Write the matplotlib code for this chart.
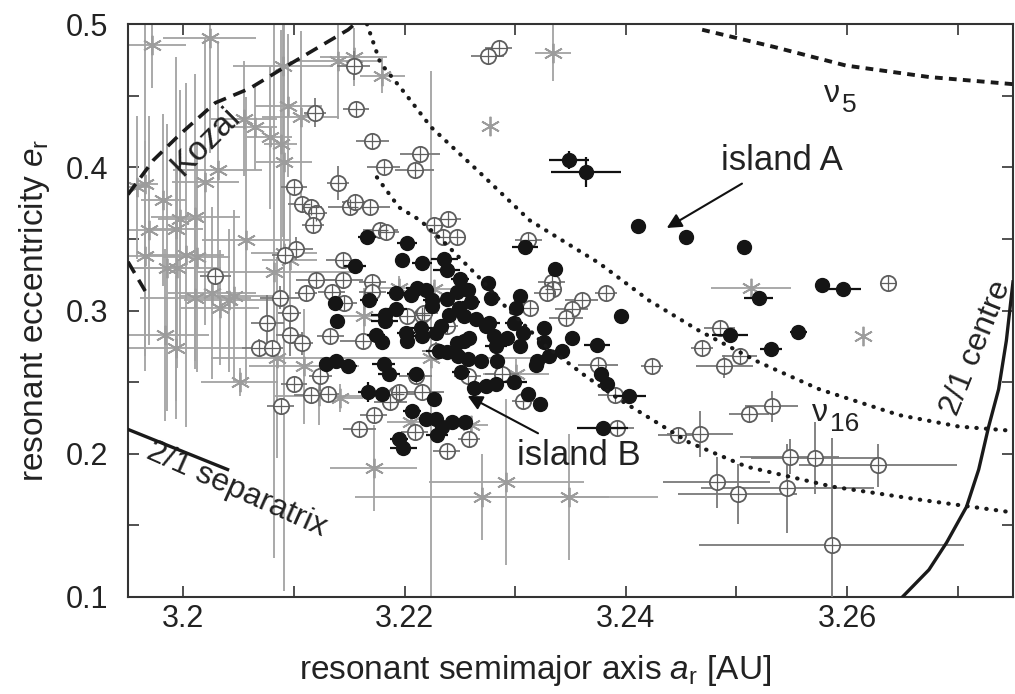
import numpy as np
import matplotlib.pyplot as plt

plt.rcParams['font.family'] = ['Liberation Sans', 'DejaVu Sans']
plt.rcParams['mathtext.fontset'] = 'custom'
plt.rcParams['mathtext.rm'] = 'Liberation Sans'
plt.rcParams['mathtext.it'] = 'Liberation Sans:italic'

# resonant elements: filled circles (islands)
filled_a = [3.2349, 3.2364, 3.2411, 3.2454, 3.2507, 3.2577, 3.2596, 3.2520, 3.2556, 3.2494, 3.2531, 3.2396, 3.2374, 3.2403, 3.2379, 3.2383, 3.2378,
            3.2166, 3.2202, 3.2309, 3.2155, 3.2198, 3.2216, 3.2236, 3.2238, 3.2250, 3.2275, 3.2336, 3.2278, 3.2304, 3.2301,
            3.2257, 3.2260, 3.2249, 3.2240, 3.2265, 3.2276, 3.2281, 3.2293, 3.2299, 3.2307,
            3.2304, 3.2283, 3.2284, 3.2269, 3.2257, 3.2248, 3.2238, 3.2231, 3.2258, 3.2247,
            3.2326, 3.2326, 3.2320, 3.2319, 3.2331, 3.2342, 3.2351, 3.2299, 3.2283, 3.2274,
            3.2263, 3.2251, 3.2210, 3.2227, 3.2312, 3.2322, 3.2211, 3.2219, 3.2206, 3.2192,
            3.2168, 3.2137, 3.2225, 3.2238, 3.2247, 3.2225, 3.2192, 3.2182, 3.2182, 3.2139,
            3.2254, 3.2274, 3.2201, 3.2215, 3.2216, 3.2228, 3.2233, 3.2174, 3.2180, 3.2254,
            3.2129, 3.2138, 3.2149, 3.2181, 3.2186, 3.2202, 3.2167, 3.2180, 3.2207, 3.2219,
            3.2228, 3.2234, 3.2243, 3.2255, 3.2229, 3.2195, 3.2199]
filled_e = [0.405, 0.397, 0.359, 0.351, 0.344, 0.318, 0.315, 0.309, 0.285, 0.283, 0.273, 0.296, 0.276, 0.240, 0.218, 0.249, 0.256,
            0.351, 0.347, 0.344, 0.331, 0.335, 0.333, 0.336, 0.328, 0.322, 0.319, 0.329, 0.309, 0.310, 0.302,
            0.314, 0.306, 0.302, 0.297, 0.294, 0.291, 0.282, 0.281, 0.291, 0.284,
            0.275, 0.275, 0.265, 0.265, 0.266, 0.268, 0.271, 0.272, 0.281, 0.277,
            0.288, 0.278, 0.265, 0.262, 0.268, 0.272, 0.281, 0.250, 0.249, 0.247,
            0.246, 0.257, 0.256, 0.238, 0.242, 0.235, 0.316, 0.314, 0.311, 0.312,
            0.307, 0.305, 0.307, 0.308, 0.313, 0.303, 0.301, 0.297, 0.293, 0.293,
            0.296, 0.289, 0.284, 0.288, 0.282, 0.284, 0.289, 0.283, 0.278, 0.279,
            0.263, 0.265, 0.261, 0.263, 0.256, 0.279, 0.243, 0.242, 0.230, 0.224,
            0.224, 0.219, 0.222, 0.222, 0.213, 0.210, 0.204]
filled_da = [0.0018, 0.0032, 0, 0, 0, 0, 0.0017, 0.0013, 0.0008, 0.0016, 0.0010, 0, 0.0012, 0.0015, 0.0023, 0, 0,
             0.0008, 0.0009, 0.0012, 0.0010, 0.0006, 0.0009, 0.0012, 0.0012, 0.0008, 0, 0, 0, 0, 0,
             0, 0.0008, 0, 0.0006, 0, 0.0010, 0, 0, 0.0008, 0,
             0, 0.0010, 0, 0, 0.0010, 0, 0.0008, 0.0012, 0, 0,
             0, 0, 0, 0, 0, 0, 0, 0.0012, 0, 0.0010,
             0, 0.0008, 0.0008, 0, 0, 0, 0.0010, 0, 0.0008, 0.0008,
             0.0008, 0.0006, 0.0008, 0, 0, 0.0006, 0.0010, 0.0012, 0.0012, 0,
             0.0008, 0, 0.0008, 0.0010, 0.0012, 0.0008, 0, 0.0008, 0.0006, 0,
             0, 0, 0.0008, 0.0010, 0.0010, 0.0006, 0.0009, 0, 0.0008, 0,
             0, 0, 0, 0, 0.0010, 0.0008, 0.0012]
filled_de = [0.006, 0.0105, 0, 0, 0, 0, 0, 0, 0, 0, 0, 0, 0, 0, 0, 0, 0,
             0, 0, 0, 0, 0, 0, 0, 0, 0, 0, 0, 0, 0, 0,
             0, 0, 0, 0, 0, 0, 0, 0, 0, 0,
             0, 0, 0, 0, 0, 0, 0, 0, 0, 0,
             0, 0, 0, 0, 0, 0, 0, 0, 0, 0,
             0, 0, 0, 0, 0, 0, 0, 0, 0, 0,
             0, 0, 0, 0, 0, 0, 0, 0, 0, 0,
             0, 0, 0, 0, 0, 0, 0, 0, 0, 0,
             0, 0, 0, 0, 0, 0, 0.007, 0, 0, 0,
             0, 0, 0, 0, 0, 0, 0]

# open circles
open_a = [3.2154, 3.2156, 3.2119, 3.2171, 3.2181, 3.2214, 3.2209, 3.2140, 3.2100, 3.2107,
          3.2115, 3.2120, 3.2151, 3.2155, 3.2169, 3.2117, 3.2178, 3.2183, 3.2102, 3.2092,
          3.2029, 3.2144, 3.2120, 3.2144, 3.2171, 3.2171, 3.2134, 3.2111, 3.2087, 3.2145,
          3.2096, 3.2076, 3.2096, 3.2107, 3.2133, 3.2068, 3.2080, 3.2162, 3.2124, 3.2100,
          3.2115, 3.2131, 3.2192, 3.2216, 3.2202, 3.2216, 3.2088, 3.2159, 3.2172, 3.2209,
          3.2187, 3.2285, 3.2275, 3.2239, 3.2227, 3.2235, 3.2247, 3.2312, 3.2333, 3.2334,
          3.2329, 3.2360, 3.2351, 3.2346, 3.2382, 3.2313, 3.2218, 3.2238, 3.2228, 3.2375,
          3.2424, 3.2288, 3.2257, 3.2210, 3.2195, 3.2390, 3.2258, 3.2238, 3.2307, 3.2392,
          3.2447, 3.2485, 3.2469, 3.2503, 3.2489, 3.2637, 3.2532, 3.2511, 3.2467, 3.2548,
          3.2571, 3.2628, 3.2482, 3.2501, 3.2546, 3.2586]
open_e = [0.471, 0.441, 0.438, 0.418, 0.400, 0.409, 0.398, 0.389, 0.386, 0.374,
          0.372, 0.368, 0.372, 0.376, 0.372, 0.360, 0.356, 0.355, 0.343, 0.339,
          0.324, 0.335, 0.321, 0.321, 0.320, 0.313, 0.313, 0.312, 0.309, 0.305,
          0.298, 0.291, 0.283, 0.277, 0.282, 0.274, 0.274, 0.279, 0.254, 0.249,
          0.241, 0.242, 0.242, 0.243, 0.296, 0.297, 0.233, 0.217, 0.227, 0.215,
          0.236, 0.483, 0.478, 0.364, 0.360, 0.351, 0.351, 0.349, 0.320, 0.315,
          0.312, 0.307, 0.301, 0.295, 0.312, 0.302, 0.298, 0.289, 0.272, 0.262,
          0.261, 0.256, 0.254, 0.254, 0.243, 0.241, 0.210, 0.202, 0.237, 0.218,
          0.213, 0.288, 0.274, 0.268, 0.261, 0.319, 0.233, 0.228, 0.214, 0.198,
          0.197, 0.192, 0.180, 0.172, 0.176, 0.136]
open_da = [0.0015, 0.0012, 0.0010, 0.0015, 0.0015, 0.0018, 0.0018, 0.0010, 0.0012, 0.0012,
           0.0010, 0.0010, 0.0020, 0.0012, 0.0018, 0.0010, 0.0016, 0.0012, 0.0015, 0.0012,
           0.0014, 0.0015, 0.0018, 0.0018, 0.0012, 0.0012, 0.0012, 0.0010, 0.0018, 0.0012,
           0.0010, 0.0015, 0.0012, 0.0010, 0.0012, 0.0015, 0.0010, 0.0020, 0.0010, 0.0012,
           0.0015, 0.0010, 0.0025, 0.0020, 0.0010, 0.0010, 0.0012, 0.0015, 0.0012, 0.0012,
           0.0015, 0.0012, 0.0015, 0.0012, 0.0010, 0.0008, 0.0008, 0.0012, 0.0012, 0,
           0.0012, 0.0015, 0.0015, 0.0015, 0.0010, 0.0008, 0.0012, 0.0010, 0.0012, 0.0018,
           0.0010, 0.0015, 0.0012, 0.0015, 0.0010, 0.0015, 0.0010, 0.0012, 0.0010, 0.0015,
           0.0018, 0.0014, 0.0010, 0.0016, 0.0026, 0, 0.0024, 0.0018, 0.0030, 0.0045,
           0.0058, 0.0071, 0.0048, 0.0054, 0.0078, 0.0120]
open_de = [0.010, 0, 0.010, 0, 0, 0.004, 0, 0.012, 0, 0,
           0, 0, 0, 0, 0, 0.005, 0, 0, 0.008, 0,
           0.005, 0, 0, 0, 0, 0, 0, 0, 0.008, 0,
           0, 0.020, 0.015, 0.008, 0, 0.006, 0, 0, 0.010, 0,
           0, 0, 0.006, 0, 0, 0, 0, 0, 0, 0.006,
           0, 0, 0, 0, 0, 0, 0, 0, 0, 0,
           0, 0, 0, 0, 0, 0, 0, 0, 0.006, 0,
           0, 0, 0, 0, 0, 0, 0, 0, 0, 0,
           0, 0.004, 0, 0, 0.008, 0, 0.011, 0, 0.016, 0.012,
           0.025, 0.015, 0.018, 0.021, 0.031, 0.075]

# asterisks
star_a = [3.1972, 3.2024, 3.2090, 3.2140, 3.2154, 3.2180, 3.2095, 3.2106, 3.2055, 3.2065,
          3.2078, 3.2088, 3.2091, 3.2031, 3.2020, 3.1982, 3.1958, 3.1965, 3.1969, 3.1993,
          3.1997, 3.2011, 3.2057, 3.1965, 3.2002, 3.2012, 3.1985, 3.1994, 3.2082, 3.2091,
          3.2096, 3.2011, 3.2026, 3.2041, 3.2033, 3.2046, 3.1983, 3.1993, 3.2051, 3.2085,
          3.2109, 3.2195, 3.2163, 3.2123, 3.2142, 3.2172, 3.2334, 3.2277, 3.2224, 3.2301,
          3.2227, 3.2270, 3.2292, 3.2349, 3.2260, 3.2206, 3.2513, 3.2614]
star_e = [0.485, 0.490, 0.471, 0.474, 0.477, 0.464, 0.443, 0.435, 0.434, 0.428,
          0.421, 0.416, 0.404, 0.398, 0.390, 0.377, 0.386, 0.388, 0.356, 0.357,
          0.364, 0.365, 0.349, 0.338, 0.339, 0.337, 0.330, 0.330, 0.327, 0.340,
          0.335, 0.309, 0.312, 0.307, 0.302, 0.310, 0.283, 0.274, 0.250, 0.267,
          0.261, 0.316, 0.296, 0.240, 0.239, 0.190, 0.480, 0.429, 0.267, 0.256,
          0.315, 0.170, 0.180, 0.170, 0.220, 0.222, 0.316, 0.282]
star_da = [0.003, 0.0042, 0.0045, 0.004, 0.003, 0.002, 0.003, 0.0035, 0.003, 0.002,
           0.002, 0.0015, 0.0025, 0.004, 0.003, 0.002, 0.0012, 0.0012, 0.003, 0.0025,
           0.002, 0.004, 0.004, 0.004, 0.0035, 0.003, 0.003, 0.004, 0.007, 0.003,
           0.0025, 0.005, 0.004, 0.004, 0.0035, 0.005, 0.004, 0.006, 0.0035, 0.006,
           0.005, 0.002, 0.0025, 0.004, 0.002, 0.0039, 0.0016, 0, 0.010, 0.003,
           0.002, 0.0115, 0.007, 0.008, 0.0015, 0.0022, 0.0036, 0]
star_de = [0.03, 0.08, 0.12, 0.04, 0.02, 0.012, 0.05, 0.06, 0.04, 0.03,
           0.05, 0.08, 0.30, 0.09, 0.10, 0.06, 0.05, 0.12, 0.08, 0.12,
           0.09, 0.10, 0.10, 0.08, 0.12, 0.08, 0.10, 0.07, 0.20, 0.06,
           0.05, 0.05, 0.06, 0.05, 0.04, 0.06, 0.06, 0.05, 0.01, 0.07,
           0.04, 0.008, 0.02, 0.02, 0.01, 0.03, 0.02, 0, 0.20, 0.01,
           0.004, 0.03, 0.058, 0.044, 0.004, 0.01, 0, 0]

# boundary curves
kozai_a = [3.1950, 3.1973, 3.1997, 3.2029, 3.2060, 3.2092, 3.2149, 3.2155]
kozai_e = [0.381, 0.405, 0.423, 0.445, 0.455, 0.470, 0.496, 0.500]
kozai_low_a = [3.1950, 3.1966]
kozai_low_e = [0.334, 0.313]
nu5_a = [3.2469, 3.2534, 3.2599, 3.2674, 3.2750]
nu5_e = [0.496, 0.484, 0.471, 0.463, 0.458]
nu16_up_a = [3.2166, 3.2178, 3.2200, 3.2224, 3.2267, 3.2313, 3.2376, 3.2421, 3.2466, 3.2520, 3.2575, 3.2647, 3.2701, 3.2750]
nu16_up_e = [0.500, 0.473, 0.452, 0.428, 0.397, 0.363, 0.333, 0.307, 0.286, 0.264, 0.245, 0.227, 0.219, 0.216]
nu16_low_a = [3.2175, 3.2195, 3.2214, 3.2234, 3.2270, 3.2292, 3.2328, 3.2364, 3.2394, 3.2457, 3.2509, 3.2587, 3.2665, 3.2750]
nu16_low_e = [0.393, 0.372, 0.363, 0.349, 0.321, 0.302, 0.275, 0.254, 0.238, 0.208, 0.191, 0.177, 0.168, 0.159]
sep_a = [3.1950, 3.2040]
sep_e = [0.217, 0.189]
centre_a = [3.2650, 3.2674, 3.2690, 3.2708, 3.2719, 3.2728, 3.2737, 3.2744, 3.2750]
centre_e = [0.100, 0.119, 0.138, 0.163, 0.189, 0.219, 0.245, 0.279, 0.320]

fig = plt.figure(figsize=(10.15, 6.94), dpi=100)
ax = fig.add_axes([128 / 1015, 1 - 597 / 694, 885 / 1015, 573 / 694])

ax.errorbar(star_a, star_e, xerr=star_da, yerr=star_de, fmt='none',
            ecolor='#a3a3a3', elinewidth=1.3, capsize=0, zorder=2)
ax.plot(star_a, star_e, ls='none', marker=(6, 2, 0), ms=14, mew=1.3,
        color='#9c9c9c', zorder=2)

ax.errorbar(open_a, open_e, xerr=open_da, yerr=open_de, fmt='none',
            ecolor='#7a7a7a', elinewidth=1.3, capsize=0, zorder=3)
ax.plot(open_a, open_e, ls='none', marker='o', ms=11, mfc='white', mec='#5e5e5e',
        mew=1.3, zorder=3)
ax.plot(open_a, open_e, ls='none', marker='+', ms=11, mec='#5e5e5e', mew=0.9, zorder=3)

ax.errorbar(filled_a, filled_e, xerr=filled_da, yerr=filled_de, fmt='none',
            ecolor='#111111', elinewidth=1.6, capsize=0, zorder=4)
ax.plot(filled_a, filled_e, ls='none', marker='o', ms=10, color='#151515', zorder=4)

ax.plot(kozai_a, kozai_e, color='#1a1a1a', lw=2.6, ls=(0, (3.6, 2.2)), zorder=5)
ax.plot(kozai_low_a, kozai_low_e, color='#1a1a1a', lw=2.6, ls=(0, (3.6, 2.2)), zorder=5)
ax.plot(nu5_a, nu5_e, color='#1a1a1a', lw=2.8, ls=(0, (2, 1.6)), zorder=5)
ax.plot(nu16_up_a, nu16_up_e, color='#1a1a1a', lw=3, ls=(0, (0.1, 2.2)),
        dash_capstyle='round', zorder=5)
ax.plot(nu16_low_a, nu16_low_e, color='#1a1a1a', lw=3, ls=(0, (0.1, 2.2)),
        dash_capstyle='round', zorder=5)
ax.plot(sep_a, sep_e, color='#1a1a1a', lw=2.4, zorder=5)
ax.plot(centre_a, centre_e, color='#1a1a1a', lw=2.4, zorder=5)

txt = '#222222'
ax.text(3.2020, 0.4176, 'Kozai', fontsize=24, rotation=45, ha='center', va='center', color=txt)
ax.text(3.2048, 0.1747, '2/1 separatrix', fontsize=23, rotation=-24, ha='center', va='center',
        color=txt, rotation_mode='anchor')
ax.text(3.2717, 0.2740, '2/1 centre', fontsize=23, rotation=68, ha='center', va='center',
        color=txt, rotation_mode='anchor')
ax.annotate('island A', xy=(3.2437, 0.3576), xytext=(3.2486, 0.405), fontsize=25,
            ha='left', va='center', color=txt,
            arrowprops=dict(arrowstyle='-|>', color='#111111', lw=1.5, mutation_scale=22,
                            shrinkA=6, shrinkB=0))
ax.annotate('island B', xy=(3.2257, 0.2404), xytext=(3.2302, 0.199), fontsize=25,
            ha='left', va='center', color=txt,
            arrowprops=dict(arrowstyle='-|>', color='#111111', lw=1.5, mutation_scale=22,
                            shrinkA=4, shrinkB=0))
ax.text(3.2586, 0.4512, 'ν', fontsize=23, ha='center', va='center', color=txt)
ax.text(3.2595, 0.4435, '5', fontsize=19, ha='left', va='center', color=txt)
ax.text(3.2576, 0.2284, 'ν', fontsize=23, ha='center', va='center', color=txt)
ax.text(3.2585, 0.2210, '16', fontsize=19, ha='left', va='center', color=txt)

ax.set_xlim(3.195, 3.275)
ax.set_ylim(0.1, 0.5)
ax.set_xticks([3.20, 3.22, 3.24, 3.26], ['3.2', '3.22', '3.24', '3.26'])
ax.set_xticks([3.21, 3.23, 3.25, 3.27], minor=True)
ax.set_yticks([0.1, 0.2, 0.3, 0.4, 0.5], ['0.1', '0.2', '0.3', '0.4', '0.5'])
ax.set_yticks([0.15, 0.25, 0.35, 0.45], minor=True)
ax.tick_params(which='both', direction='in', top=True, right=True, length=8, width=1.2,
               color='#333333')
ax.tick_params(axis='x', which='major', labelsize=22, pad=5, labelcolor=txt)
ax.tick_params(axis='y', which='major', labelsize=22, pad=14, labelcolor=txt)
for s in ax.spines.values():
    s.set_linewidth(1.5)
    s.set_color('#333333')

ax.set_xlabel(r'resonant semimajor axis $a_\mathrm{r}$ [AU]', fontsize=24, color=txt)
ax.set_ylabel(r'resonant eccentricity $e_\mathrm{r}$', fontsize=24, color=txt, labelpad=10)
ax.xaxis.set_label_coords(0.46, -0.097)

fig.savefig('out.png', dpi=100)
